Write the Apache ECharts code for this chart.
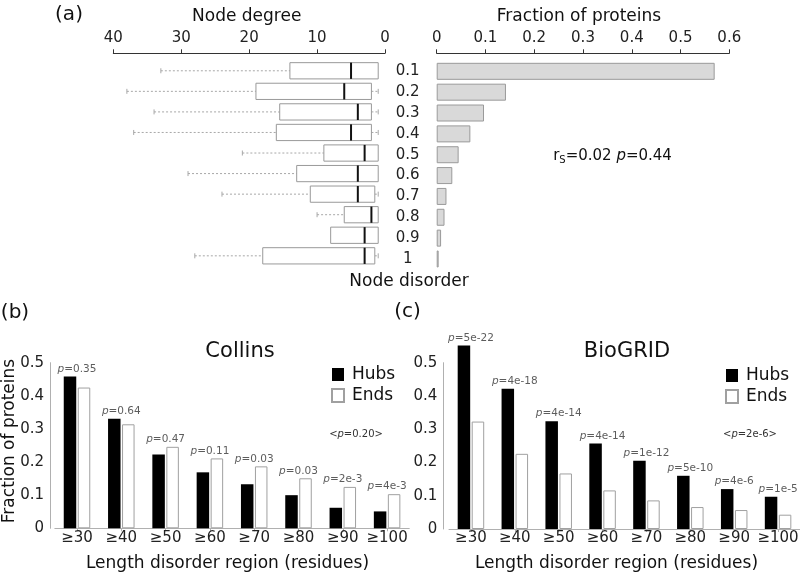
<!DOCTYPE html>
<html>
<head>
<meta charset="utf-8">
<script src="https://cdn.jsdelivr.net/npm/echarts@6/dist/echarts.min.js"></script>
<style>html,body{margin:0;padding:0;background:#fff;}#c{width:800px;height:575px;}</style>
</head>
<body>
<div id="c"></div>
<script>
// ---- Panel (a) data ----
const disorderCats = ['0.1','0.2','0.3','0.4','0.5','0.6','0.7','0.8','0.9','1'];
const degMin    = [1, 1, 1, 1, 1, 1, 1, 1, 1, 1];
const degQ1     = [1, 2, 2, 2, 1, 1, 1.5, 1, 1, 1.5];
const degMedian = [5, 6, 4, 5, 3, 4, 4, 2, 3, 3];
const degQ3     = [14, 19, 15.5, 16, 9, 13, 11, 6, 8, 18];
const degMax    = [33, 38, 34, 37, 21, 29, 24, 10, 8, 28];
const fracProteins = [0.570, 0.142, 0.097, 0.069, 0.045, 0.032, 0.020, 0.016, 0.009, 0.004];

// ---- Panels (b) and (c) data ----
const lengthCats = ['≥30','≥40','≥50','≥60','≥70','≥80','≥90','≥100'];
const collinsHubs = [0.458, 0.331, 0.223, 0.169, 0.133, 0.100, 0.062, 0.051];
const collinsEnds = [0.425, 0.314, 0.246, 0.211, 0.187, 0.151, 0.125, 0.103];
const collinsP    = ['0.35','0.64','0.47','0.11','0.03','0.03','2e-3','4e-3'];
const biogridHubs = [0.552, 0.422, 0.324, 0.257, 0.205, 0.160, 0.120, 0.097];
const biogridEnds = [0.323, 0.226, 0.167, 0.116, 0.086, 0.066, 0.057, 0.043];
const biogridP    = ['5e-22','4e-18','4e-14','4e-14','1e-12','5e-10','4e-6','1e-5'];

const FONT = 'DejaVu Sans';
const chart = echarts.init(document.getElementById('c'), null, {renderer: 'canvas'});

function renderBox(params, api) {
  const cat = api.value(0);
  const mn = api.value(1), q1 = api.value(2), md = api.value(3), q3 = api.value(4), mx = api.value(5);
  const y = api.coord([0, cat])[1];
  const band = api.size([0, 1])[1];
  const h = band * 0.79;
  const X = v => api.coord([v, cat])[0];
  const dash = {stroke: '#a8a8a8', lineWidth: 1, lineDash: [2, 2]};
  const cap = {stroke: '#a8a8a8', lineWidth: 1};
  const ch = [];
  if (mx > q3) {
    ch.push({type: 'line', shape: {x1: X(mx), y1: y, x2: X(q3), y2: y}, style: dash});
    ch.push({type: 'line', shape: {x1: X(mx), y1: y - 2.5, x2: X(mx), y2: y + 2.5}, style: cap});
  }
  if (mn < q1) {
    ch.push({type: 'line', shape: {x1: X(q1), y1: y, x2: X(mn), y2: y}, style: dash});
    ch.push({type: 'line', shape: {x1: X(mn), y1: y - 2.5, x2: X(mn), y2: y + 2.5}, style: cap});
  }
  ch.push({type: 'rect', shape: {x: X(q3), y: y - h / 2, width: X(q1) - X(q3), height: h},
           style: {fill: '#fff', stroke: '#999', lineWidth: 1}});
  ch.push({type: 'line', shape: {x1: X(md), y1: y - h / 2, x2: X(md), y2: y + h / 2},
           style: {stroke: '#111', lineWidth: 2}});
  return {type: 'group', children: ch};
}

function pLabelSeries(xi, yi, hubs, ends, pv) {
  return {
    type: 'scatter', xAxisIndex: xi, yAxisIndex: yi, symbolSize: 0, clip: false, silent: true,
    data: hubs.map((h, i) => Math.max(h, ends[i])),
    label: {
      show: true, position: 'top', distance: 2, fontSize: 10.5, color: '#333', fontFamily: FONT,
      formatter: p => '{i|p}=' + pv[p.dataIndex],
      rich: {i: {fontStyle: 'italic', fontSize: 10.5, color: '#333', fontFamily: FONT}}
    }
  };
}

const topAxisStyle = {
  axisLine: {show: true, lineStyle: {color: '#333', width: 1}},
  axisTick: {show: true, length: 4, lineStyle: {color: '#333'}},
  axisLabel: {fontSize: 15, color: '#222', margin: 8, fontFamily: FONT},
  splitLine: {show: false}
};
const valYStyle = {
  type: 'value', min: 0, max: 0.5, interval: 0.1,
  axisLine: {show: true, lineStyle: {color: '#b0b0b0'}},
  axisTick: {show: false},
  axisLabel: {fontSize: 15, color: '#222', margin: 6, fontFamily: FONT},
  splitLine: {show: false}
};
const catXStyle = {
  type: 'category', data: lengthCats,
  axisLine: {show: true, lineStyle: {color: '#b0b0b0'}},
  axisTick: {show: true, alignWithLabel: true, length: 3, lineStyle: {color: '#b0b0b0'}},
  axisLabel: {fontSize: 15, color: '#222', margin: 2, fontFamily: FONT, interval: 0}
};

function txt(x, y, text, size, extra) {
  return Object.assign({type: 'text', x: x, y: y, silent: true,
    style: {text: text, fontSize: size, fontFamily: FONT, fill: '#111', align: 'center', verticalAlign: 'middle'}}, extra || {});
}

const option = {
  animation: false,
  textStyle: {fontFamily: FONT},
  grid: [
    {left: 113.3, top: 60.5, width: 271.7, height: 205.6, outerBoundsMode: 'none'},
    {left: 436.7, top: 60.9, width: 292.6, height: 208.5, outerBoundsMode: 'none'},
    {left: 54.85, top: 362.7, width: 354.4, height: 165.6, outerBoundsMode: 'none'},
    {left: 449, top: 362.7, width: 351, height: 166.3, outerBoundsMode: 'none'}
  ],
  xAxis: [
    Object.assign({gridIndex: 0, type: 'value', min: 0, max: 40, interval: 10, inverse: true, position: 'top', offset: 7.2}, topAxisStyle),
    Object.assign({gridIndex: 1, type: 'value', min: 0, max: 0.6, interval: 0.1, position: 'top', offset: 7.6}, topAxisStyle),
    Object.assign({gridIndex: 2}, catXStyle),
    Object.assign({gridIndex: 3}, catXStyle)
  ],
  yAxis: [
    {gridIndex: 0, type: 'category', data: disorderCats, inverse: true, show: false},
    {gridIndex: 1, type: 'category', data: disorderCats, inverse: true,
     axisLine: {show: false}, axisTick: {show: false},
     axisLabel: {fontSize: 15, color: '#222', align: 'center', margin: 29, fontFamily: FONT}},
    Object.assign({gridIndex: 2, offset: 4.85}, valYStyle),
    Object.assign({gridIndex: 3, offset: 5.7}, valYStyle)
  ],
  legend: [
    {left: 326, top: 361, orient: 'vertical', itemWidth: 12, itemHeight: 13, itemGap: 4, icon: 'rect',
     data: ['Hubs', 'Ends'], textStyle: {fontSize: 17, color: '#111', fontFamily: FONT, padding: [0, 0, 0, 3]}, selectedMode: false},
    {left: 720, top: 362, orient: 'vertical', itemWidth: 12, itemHeight: 13, itemGap: 4, icon: 'rect',
     data: ['Hubs', 'Ends'], textStyle: {fontSize: 17, color: '#111', fontFamily: FONT, padding: [0, 0, 0, 3]}, selectedMode: false}
  ],
  series: [
    {
      type: 'custom', name: 'Node degree', xAxisIndex: 0, yAxisIndex: 0, silent: true,
      renderItem: renderBox,
      encode: {x: [1, 2, 3, 4, 5], y: 0},
      data: disorderCats.map((c, i) => [i, degMin[i], degQ1[i], degMedian[i], degQ3[i], degMax[i]])
    },
    {
      type: 'bar', name: 'Fraction', xAxisIndex: 1, yAxisIndex: 1, barWidth: 17, silent: true,
      itemStyle: {color: '#d9d9d9', borderColor: '#9a9a9a', borderWidth: 1},
      data: fracProteins
    },
    {type: 'bar', name: 'Hubs', xAxisIndex: 2, yAxisIndex: 2, barWidth: 12.5, barGap: '12%', clip: false,
     itemStyle: {color: '#000'}, data: collinsHubs},
    {type: 'bar', name: 'Ends', xAxisIndex: 2, yAxisIndex: 2, barWidth: 12.5, barGap: '12%', clip: false,
     itemStyle: {color: '#fff', borderColor: '#a0a0a0', borderWidth: 1}, data: collinsEnds},
    pLabelSeries(2, 2, collinsHubs, collinsEnds, collinsP),
    {type: 'bar', name: 'Hubs', xAxisIndex: 3, yAxisIndex: 3, barWidth: 12.5, barGap: '12%', clip: false,
     itemStyle: {color: '#000'}, data: biogridHubs},
    {type: 'bar', name: 'Ends', xAxisIndex: 3, yAxisIndex: 3, barWidth: 12.5, barGap: '12%', clip: false,
     itemStyle: {color: '#fff', borderColor: '#a0a0a0', borderWidth: 1}, data: biogridEnds},
    pLabelSeries(3, 3, biogridHubs, biogridEnds, biogridP)
  ],
  graphic: [
    txt(69, 15, '(a)', 20),
    txt(246.7, 16.7, 'Node degree', 17),
    txt(579, 16.7, 'Fraction of proteins', 17),
    txt(409, 282, 'Node disorder', 17),
    {type: 'text', x: 612.5, y: 155.7, silent: true,
     style: {text: '{n|r}{s|S}{n|=0.02 }{i|p}{n|=0.44}', align: 'center', verticalAlign: 'middle', fill: '#111',
       fontFamily: FONT, fontSize: 15,
       rich: {
         n: {fontSize: 15, fontFamily: FONT, fill: '#111', lineHeight: 20, verticalAlign: 'middle'},
         s: {fontSize: 10, fontFamily: FONT, fill: '#111', lineHeight: 20, verticalAlign: 'bottom'},
         i: {fontSize: 15, fontFamily: FONT, fill: '#111', fontStyle: 'italic', lineHeight: 20, verticalAlign: 'middle'}
       }}},
    txt(15, 313, '(b)', 20),
    txt(407.5, 312, '(c)', 20),
    txt(240, 351.7, 'Collins', 21),
    txt(627, 351.7, 'BioGRID', 21),
    txt(10, 441, 'Fraction of proteins', 17, {rotation: Math.PI / 2}),
    txt(227.5, 563.3, 'Length disorder region (residues)', 17),
    txt(616.5, 563.3, 'Length disorder region (residues)', 17),
    {type: 'text', x: 356, y: 434, silent: true,
     style: {text: '<{i|p}=0.20>', fontSize: 10, fontFamily: FONT, fill: '#333', align: 'center', verticalAlign: 'middle',
       rich: {i: {fontStyle: 'italic', fontSize: 10, fontFamily: FONT, fill: '#333'}}}},
    {type: 'text', x: 750, y: 434, silent: true,
     style: {text: '<{i|p}=2e-6>', fontSize: 10, fontFamily: FONT, fill: '#333', align: 'center', verticalAlign: 'middle',
       rich: {i: {fontStyle: 'italic', fontSize: 10, fontFamily: FONT, fill: '#333'}}}}
  ]
};
chart.setOption(option);
</script>
</body>
</html>
